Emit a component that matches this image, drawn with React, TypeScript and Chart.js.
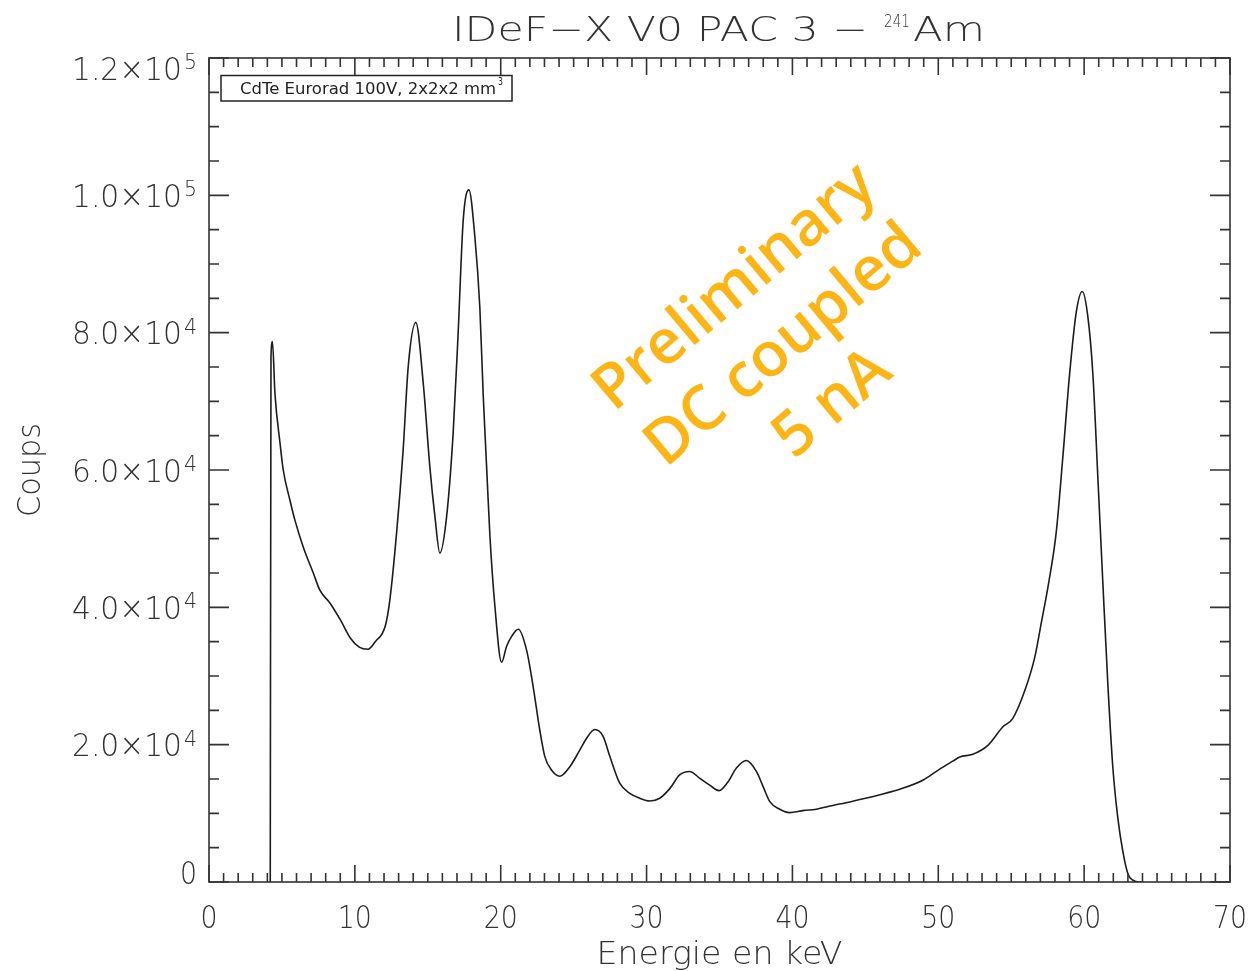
import React, { useEffect, useRef } from "react";
import { Chart, registerables } from "chart.js";

Chart.register(...registerables);

// Spectrum (energy in keV, counts)
const energy = [
  4.2, 4.25, 4.35, 4.52, 4.87, 5.09, 5.55, 5.89, 6.46, 7.15, 7.6, 8.3, 9.0, 9.7, 10.3, 10.9, 11.4, 12.1, 12.4,
  12.86, 13.31, 13.66, 14.18, 14.69, 15.14, 15.49, 15.83, 16.29, 16.74, 17.08, 17.43, 17.82, 18.23, 18.57,
  18.8, 19.03, 19.26, 19.6, 20.06, 20.4, 20.76, 21.2, 21.77, 22.22, 22.68, 23.02, 23.48, 24.05, 24.74, 25.42,
  25.88, 26.45, 27.02, 27.48, 28.16, 28.85, 29.53, 30.22, 30.9, 31.59, 32.27, 32.96, 33.65, 34.33, 34.97,
  35.59, 36.16, 36.85, 37.53, 37.99, 38.45, 39.13, 39.81, 40.73, 41.64, 42.44, 44.0, 46.0, 47.5, 49.0, 50.0,
  51.0, 51.47, 52.37, 53.4, 54.43, 55.1, 55.92, 56.6, 57.06, 57.58, 58.09, 58.54, 59.0, 59.46, 59.87, 60.25,
  60.6, 60.94, 61.28, 61.63, 61.97, 62.31, 62.65, 63.0, 63.34, 63.8, 64.0,
];
const counts = [
  0, 76500, 78700, 71200, 63900, 60000, 55600, 52700, 48800, 45000, 42500, 40600, 38200, 35500, 34200, 33900, 35000, 37400, 41100,
  50800, 62900, 75100, 81500, 72600, 60500, 53200, 47900, 53200, 65400, 79900, 96400, 100800, 93900, 83600,
  70900, 60600, 50400, 40200, 32000, 34300, 35800, 36800, 33800, 28500, 22100, 18300, 16300, 15400, 16800, 19200,
  20900, 22200, 21200, 18300, 14400, 12900, 12200, 11800, 12200, 13600, 15600, 16100, 15100, 14100, 13300,
  14600, 16600, 17700, 16100, 13900, 11700, 10600, 10100, 10400, 10600, 11000, 11700, 12700, 13600, 14900, 16300,
  17600, 18200, 18600, 19900, 22600, 23800, 27800, 32600, 37700, 43700, 51000, 61900, 73900, 83000, 86000, 82400,
  73900, 58900, 43700, 28600, 16600, 9300, 4500, 1200, 260, 0, 0,
];

const xMin = 0;
const xMax = 70;
const yMin = 0;
const yMax = 120000;
const xTickValues = [0, 10, 20, 30, 40, 50, 60, 70];
const xTickLabels = ["0", "10", "20", "30", "40", "50", "60", "70"];
const yTickValues = [0, 20000, 40000, 60000, 80000, 100000, 120000];
const yTickMantissa = ["0", "2.0\u00d710", "4.0\u00d710", "6.0\u00d710", "8.0\u00d710", "1.0\u00d710", "1.2\u00d710"];
const yTickExponent = ["", "4", "4", "4", "4", "5", "5"];
const xMinorStep = 1;
const yMinorStep = 5000;

const titleMain = "IDeF\u2212X V0 PAC 3 \u2212";
const titleSup = "241";
const titleEnd = "Am";
const xTitle = "Energie en keV";
const yTitle = "Coups";
const legendText = "CdTe Eurorad 100V, 2x2x2 mm";
const legendSup = "3";
const watermarkLines = ["Preliminary", "DC coupled", "5 nA"];

const TEXT = "#333333";
const FONT = '"DejaVu Sans"';

function fitText(
  ctx: CanvasRenderingContext2D,
  text: string,
  x: number,
  y: number,
  width: number,
  font: string,
  align: CanvasTextAlign
) {
  ctx.font = font;
  const w = ctx.measureText(text).width;
  const s = w > 0 ? width / w : 1;
  ctx.save();
  ctx.translate(x, y);
  ctx.scale(s, 1);
  ctx.textAlign = align;
  ctx.textBaseline = "alphabetic";
  ctx.fillText(text, 0, 0);
  ctx.restore();
}

const framePlugin = {
  id: "idlFrame",
  afterDraw(chart: any) {
    const ctx: CanvasRenderingContext2D = chart.ctx;
    const { left, right, top, bottom } = chart.chartArea;
    const xs = chart.scales.x;
    const ys = chart.scales.y;
    ctx.save();
    ctx.strokeStyle = "#333333";
    ctx.lineWidth = 1.6;
    ctx.strokeRect(left, top, right - left, bottom - top);
    ctx.beginPath();
    for (let v = xMin; v <= xMax + 1e-9; v += xMinorStep) {
      const px = xs.getPixelForValue(v);
      const major = Math.abs(v % 10) < 1e-9;
      const len = major ? 17 : 9;
      ctx.moveTo(px, bottom);
      ctx.lineTo(px, bottom - len);
      ctx.moveTo(px, top);
      ctx.lineTo(px, top + len);
    }
    for (let v = yMin; v <= yMax + 1e-9; v += yMinorStep) {
      const py = ys.getPixelForValue(v);
      const major = v % 20000 === 0;
      const len = major ? 20 : 10;
      ctx.moveTo(left, py);
      ctx.lineTo(left + len, py);
      ctx.moveTo(right, py);
      ctx.lineTo(right - len, py);
    }
    ctx.stroke();

    ctx.fillStyle = TEXT;
    // y tick labels
    yTickValues.forEach((v, i) => {
      let cy = ys.getPixelForValue(v);
      if (i === 0) cy -= 10;
      if (i === yTickValues.length - 1) cy += 10;
      if (yTickExponent[i]) {
        fitText(ctx, yTickMantissa[i], left - 27, cy + 11.5, 110, `200 32px ${FONT}`, "right");
        fitText(ctx, yTickExponent[i], left - 12, cy + 1, 13, `200 21px ${FONT}`, "right");
      } else {
        fitText(ctx, yTickMantissa[i], left - 12, cy + 11.5, 17, `200 32px ${FONT}`, "right");
      }
    });
    // x tick labels
    xTickValues.forEach((v, i) => {
      const cx = xs.getPixelForValue(v);
      const w = xTickLabels[i].length * 17;
      fitText(ctx, xTickLabels[i], cx, 928, w, `200 32px ${FONT}`, "center");
    });
    // axis titles
    fitText(ctx, xTitle, (left + right) / 2, 964, 246, `200 32px ${FONT}`, "center");
    ctx.save();
    ctx.translate(40, (top + bottom) / 2);
    ctx.rotate(-Math.PI / 2);
    fitText(ctx, yTitle, 0, 0, 94, `200 32px ${FONT}`, "center");
    ctx.restore();
    // title
    fitText(ctx, titleMain, 452, 41, 416, `200 34px ${FONT}`, "left");
    fitText(ctx, titleSup, 884, 27, 26, `200 17px ${FONT}`, "left");
    fitText(ctx, titleEnd, 913, 41, 72, `200 34px ${FONT}`, "left");
    // legend box
    ctx.fillStyle = "#ffffff";
    ctx.fillRect(221, 75.5, 291, 25.5);
    ctx.strokeStyle = "#222222";
    ctx.lineWidth = 1.5;
    ctx.strokeRect(221, 75.5, 291, 25.5);
    ctx.fillStyle = "#222222";
    fitText(ctx, legendText, 240, 94, 256, `16px ${FONT}`, "left");
    fitText(ctx, legendSup, 498, 85, 5, `10px ${FONT}`, "left");
    // watermark
    ctx.save();
    ctx.translate(784, 346);
    ctx.rotate((-40 * Math.PI) / 180);
    ctx.fillStyle = "#FDB515";
    ctx.font = `600 62px "Open Sans", "Noto Sans", sans-serif`;
    ctx.textAlign = "center";
    ctx.textBaseline = "middle";
    watermarkLines.forEach((t, i) => {
      ctx.fillText(t, 0, (i - 1) * 76);
    });
    ctx.restore();
    ctx.restore();
  },
};

export default function App() {
  const ref = useRef<HTMLCanvasElement | null>(null);
  useEffect(() => {
    if (!ref.current) return;
    const data = energy.map((e, i) => ({ x: e, y: counts[i] }));
    const chart = new Chart(ref.current, {
      type: "line",
      data: {
        datasets: [
          {
            data,
            borderColor: "#1c1c1c",
            borderWidth: 1.6,
            pointRadius: 0,
            fill: false,
            cubicInterpolationMode: "monotone",
          },
        ],
      },
      options: {
        animation: false,
        responsive: false,
        devicePixelRatio: 1,
        layout: { padding: { left: 209, right: 24, top: 58, bottom: 89 } },
        scales: {
          x: { type: "linear", min: xMin, max: xMax, display: false },
          y: { type: "linear", min: yMin, max: yMax, display: false },
        },
        plugins: { legend: { display: false }, tooltip: { enabled: false } },
      },
      plugins: [framePlugin],
    });
    return () => chart.destroy();
  }, []);
  return (
    <div style={{ position: "absolute", left: 0, top: 0, width: 1254, height: 971, background: "#fff" }}>
      <canvas ref={ref} width={1254} height={971} style={{ width: 1254, height: 971 }} />
    </div>
  );
}
